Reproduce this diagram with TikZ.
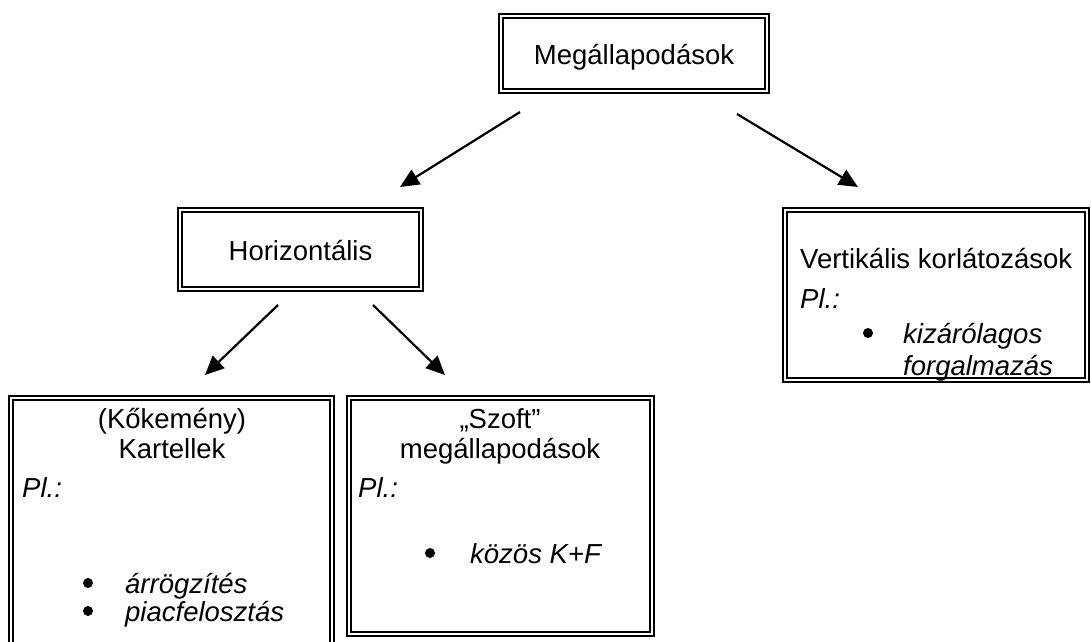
\documentclass[tikz,border=0pt]{standalone}
\usepackage{fontspec}
\setmainfont{Liberation Sans}
\usetikzlibrary{arrows.meta}
\begin{document}
\begin{tikzpicture}[x=1pt,y=-1pt,
  dbox/.style={draw=black, line width=2.2pt, double=white, double distance=2.2pt,
    inner sep=0pt, outer sep=0pt, rectangle},
  txt/.style={inner sep=0pt, font=\fontsize{27.5}{32}\selectfont},
  itxt/.style={txt, font=\fontsize{27.5}{32}\selectfont\itshape},
  link/.style={line width=2.2pt, -{Triangle[length=19pt,width=17pt]}},
  dot/.style={circle, fill=black, inner sep=0pt, minimum size=10pt}]
  \clip (0,0) rectangle (1091,641);
  \fill[white] (0,0) rectangle (1091,641);

  % boxes (centre lines of the double borders)
  \node[dbox, minimum width=266pt, minimum height=75pt] (top) at (634,53.5) {};
  \node[dbox, minimum width=241pt, minimum height=79pt] (hor) at (300.5,249.5) {};
  \node[dbox, minimum width=302pt, minimum height=170pt] (ver) at (936,295) {};
  \node[dbox, minimum width=321pt, minimum height=260pt] (kar) at (171.5,528) {};
  \node[dbox, minimum width=303pt, minimum height=236pt] (szo) at (500.5,516) {};

  % texts
  \node[txt, anchor=base] (ttop) at (634,64) {Megállapodások};
  \node[txt, anchor=base] (thor) at (300.5,260) {Horizontális};

  \node[txt, anchor=base west] (tver) at (800,268) {Vertikális korlátozások};
  \node[itxt, anchor=base west] (pver) at (800,308) {Pl.:};
  \node[dot] (bver) at (868,333) {};
  \node[itxt, anchor=base west] (iver1) at (903,343) {kizárólagos};
  \node[itxt, anchor=base west] (iver2) at (903,375) {forgalmazás};

  \node[txt, anchor=base] (tkar1) at (172,428) {(Kőkemény)};
  \node[txt, anchor=base] (tkar2) at (172,458) {Kartellek};
  \node[itxt, anchor=base west] (pkar) at (22,497) {Pl.:};
  \node[dot] (bkar1) at (88,583) {};
  \node[itxt, anchor=base west] (ikar1) at (125,593) {árrögzítés};
  \node[dot] (bkar2) at (88,611) {};
  \node[itxt, anchor=base west] (ikar2) at (125,621) {piacfelosztás};

  \node[txt, anchor=base] (tszo1) at (500,428) {„Szoft”};
  \node[txt, anchor=base] (tszo2) at (500,458) {megállapodások};
  \node[itxt, anchor=base west] (pszo) at (358,497) {Pl.:};
  \node[dot] (bszo) at (430,553) {};
  \node[itxt, anchor=base west] (iszo) at (470,563) {közös K+F};

  % connector end points
  \coordinate (a1s) at (520,112); \coordinate (a1e) at (400,187);
  \coordinate (a2s) at (737,114); \coordinate (a2e) at (858,187);
  \coordinate (a3s) at (278,305); \coordinate (a3e) at (205,375);
  \coordinate (a4s) at (373,305); \coordinate (a4e) at (445,375);
  \draw[link] (a1s) -- (a1e);
  \draw[link] (a2s) -- (a2e);
  \draw[link] (a3s) -- (a3e);
  \draw[link] (a4s) -- (a4e);
\end{tikzpicture}
\end{document}
